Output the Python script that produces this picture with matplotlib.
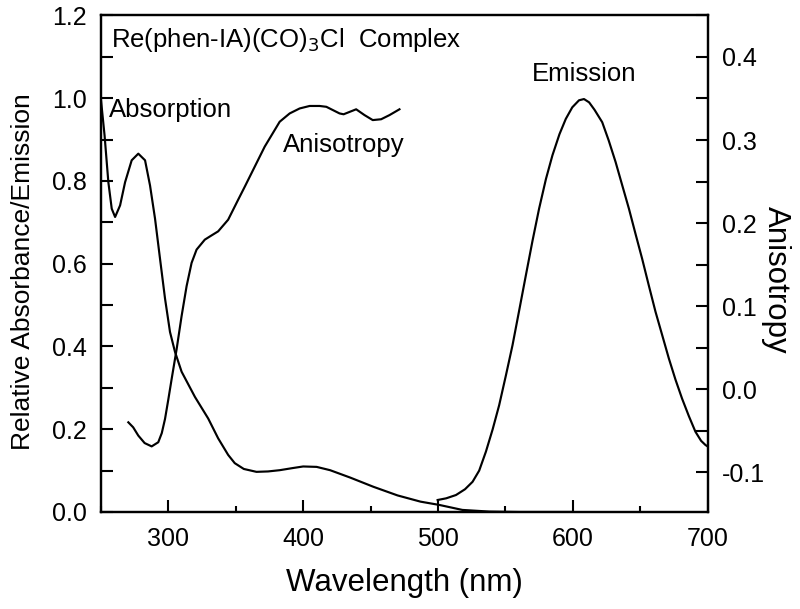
import matplotlib
matplotlib.use("Agg")
import matplotlib.pyplot as plt
from matplotlib.ticker import MultipleLocator

plt.rcParams['font.family'] = ['Liberation Sans', 'DejaVu Sans']

# Absorption (left axis)
abs_wl = [250, 252.8, 255.6, 258.1, 260.6, 264.3, 268, 272.9, 277.8, 282.8, 286.5, 290.2, 293.9, 297.6,
          301.3, 305, 309.9, 319.8, 329.6, 337, 344.4, 349.3, 356, 365.4, 374, 382.6, 392, 400, 410, 420,
          435, 452, 470, 487, 501, 518, 538, 560, 600]
abs_val = [1.0, 0.91, 0.797, 0.733, 0.713, 0.741, 0.797, 0.85, 0.866, 0.85, 0.789, 0.709, 0.612, 0.516,
           0.435, 0.387, 0.339, 0.278, 0.226, 0.178, 0.138, 0.118, 0.104, 0.097, 0.098, 0.101, 0.106, 0.11,
           0.109, 0.101, 0.083, 0.061, 0.04, 0.025, 0.017, 0.005, 0.001, 0.0, 0.0]

# Emission (left axis)
em_wl = [499.7, 506, 513.3, 520, 525.6, 530.5, 535.5, 540.5, 545.3, 550.3, 555.2, 560.2, 565.1, 570, 574.9,
         580, 584.8, 590, 594.7, 599.5, 604.5, 608.2, 612, 616, 621.7, 626.5, 631.6, 636.5, 641.5, 646.4,
         651.3, 656.2, 661.2, 666.2, 671.1, 676, 680.9, 685.9, 690.8, 695, 698.2, 700]
em_val = [0.029, 0.033, 0.041, 0.055, 0.073, 0.1, 0.146, 0.2, 0.258, 0.33, 0.403, 0.488, 0.572, 0.655, 0.733,
          0.805, 0.862, 0.913, 0.95, 0.978, 0.995, 0.998, 0.99, 0.972, 0.942, 0.898, 0.846, 0.79, 0.733, 0.672,
          0.612, 0.548, 0.484, 0.427, 0.371, 0.32, 0.274, 0.232, 0.194, 0.172, 0.162, 0.158]

# Anisotropy (right axis)
ani_wl = [270.4, 274, 277.8, 282.5, 287.7, 292.6, 295.2, 297.6, 300, 302.5, 306.2, 309.9, 313.6, 317.3, 321,
          327.1, 332, 337, 344.4, 351.8, 356.8, 361.7, 371.5, 378.9, 382.6, 390, 397.4, 404.8, 412.2, 417.2,
          422.1, 427, 430, 433.1, 439.3, 445.5, 451.6, 457.8, 464, 471.4]
ani_val = [-0.040, -0.046, -0.056, -0.065, -0.069, -0.064, -0.053, -0.036, -0.013, 0.012, 0.048, 0.088, 0.124,
           0.152, 0.168, 0.18, 0.185, 0.19, 0.204, 0.228, 0.244, 0.26, 0.292, 0.312, 0.322, 0.332, 0.338, 0.341,
           0.341, 0.340, 0.336, 0.332, 0.331, 0.333, 0.337, 0.330, 0.324, 0.325, 0.330, 0.337]

x_ticks = [300, 400, 500, 600, 700]
left_ticks = [0.0, 0.2, 0.4, 0.6, 0.8, 1.0, 1.2]
right_ticks = [-0.1, 0.0, 0.1, 0.2, 0.3, 0.4]

fig = plt.figure(figsize=(8, 6.09), dpi=100)
ax = fig.add_axes([0.126, 0.1593, 0.7588, 0.8153])
ax2 = ax.twinx()

lw = 1.55
ax.plot(abs_wl, abs_val, color='black', lw=lw, solid_joinstyle='round')
ax.plot(em_wl, em_val, color='black', lw=lw, solid_joinstyle='round')
ax2.plot(ani_wl, ani_val, color='black', lw=lw, solid_joinstyle='round')

ax.set_xlim(250, 700)
ax.set_ylim(0, 1.2)
ax2.set_ylim(-0.148, 0.45)

ax.set_xticks(x_ticks)
ax.xaxis.set_minor_locator(MultipleLocator(50))
ax.set_yticks(left_ticks)
ax.set_yticklabels([f"{v:.1f}" for v in left_ticks])
ax.yaxis.set_minor_locator(MultipleLocator(0.1))
ax2.set_yticks(right_ticks)
ax2.set_yticklabels([f"{v:.1f}" for v in right_ticks])
ax2.yaxis.set_minor_locator(MultipleLocator(0.05))

fs_tick = 18
tl = 8.6
ax.tick_params(axis='x', which='major', direction='in', length=tl, width=1.5, labelsize=fs_tick, pad=11, top=False)
ax.tick_params(axis='x', which='minor', direction='in', length=4.5, width=1.5, top=False)
ax.tick_params(axis='y', which='both', direction='in', length=tl, width=1.5, labelsize=fs_tick, pad=10, right=False)
ax2.tick_params(axis='y', which='both', direction='in', length=tl, width=1.5, labelsize=fs_tick, pad=10)

for a in (ax, ax2):
    for s in a.spines.values():
        s.set_linewidth(1.6)

ax.set_xlabel("Wavelength (nm)", fontsize=22.5, va='center')
ax.xaxis.set_label_coords(0.5, -0.143)
ax.set_ylabel("Relative Absorbance/Emission", fontsize=19, va='center')
ax.yaxis.set_label_coords(-0.128, 0.485)
ax2.set_ylabel("Anisotropy", fontsize=22.5, rotation=270, va='center')
ax2.yaxis.set_label_coords(1.112, 0.467)

fs_txt = 18.5
ax.text(257.2, 1.123, "Re(phen-IA)(CO)$_3$Cl  Complex", fontsize=fs_txt, va='baseline', ha='left')
ax.text(255.9, 0.954, "Absorption", fontsize=fs_txt, va='baseline', ha='left')
ax.text(384.8, 0.870, "Anisotropy", fontsize=fs_txt, va='baseline', ha='left')
ax.text(608, 1.041, "Emission", fontsize=fs_txt, va='baseline', ha='center')

fig.savefig("out.png", dpi=100)
